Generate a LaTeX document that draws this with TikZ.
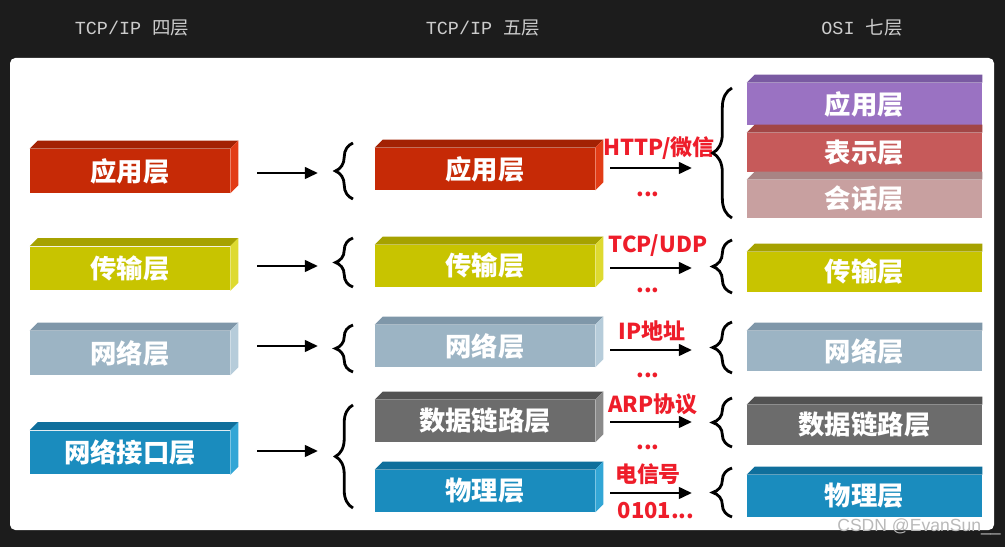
\documentclass[tikz,border=0pt]{standalone}
\usepackage{fontspec}
\setmainfont{Noto Sans CJK SC}
\newfontfamily\hdmono{Liberation Mono}
\newfontfamily\wmfont{Liberation Sans}
\usetikzlibrary{arrows.meta,calc,decorations.pathreplacing}

\definecolor{bgdark}{HTML}{1C1C1C}
\definecolor{headgray}{HTML}{CCCCCC}
\definecolor{protored}{HTML}{EE1D2A}
\definecolor{redfront}{HTML}{C62A06}
\definecolor{redtop}{HTML}{A32204}
\definecolor{redside}{HTML}{E23C16}
\definecolor{yelfront}{HTML}{C8C400}
\definecolor{yeltop}{HTML}{A6A200}
\definecolor{yelside}{HTML}{DEDA30}
\definecolor{lbfront}{HTML}{9CB4C4}
\definecolor{lbtop}{HTML}{7F97A9}
\definecolor{lbside}{HTML}{B6CCDA}
\definecolor{bfront}{HTML}{1A8CBE}
\definecolor{btop}{HTML}{0F6F9C}
\definecolor{bside}{HTML}{32A6D6}
\definecolor{gfront}{HTML}{6C6C6C}
\definecolor{gtop}{HTML}{525252}
\definecolor{gside}{HTML}{8A8A8A}
\definecolor{pfront}{HTML}{9A72C2}
\definecolor{ptop}{HTML}{7A5AA2}
\definecolor{bsfront}{HTML}{C65A5A}
\definecolor{bstop}{HTML}{A24646}
\definecolor{hhfront}{HTML}{C8A0A0}
\definecolor{hhtop}{HTML}{A88484}

\begin{document}
\begin{tikzpicture}[
    x=0.02cm, y=-0.02cm,
    layer/.style={rectangle, inner sep=0pt, text=white, font=\fontsize{15}{15}\selectfont\bfseries},
    lbox/.style={layer, minimum width=4cm, minimum height=0.88cm},
    mbox/.style={layer, minimum width=4.4cm, minimum height=0.84cm},
    rbox/.style={layer, minimum width=4.7cm, minimum height=0.8cm},
    proto/.style={text=protored, inner sep=0pt, font=\fontsize{12.5}{12.5}\selectfont\bfseries},
    head/.style={text=headgray, inner sep=0pt, font=\fontsize{10.5}{10.5}\selectfont},
    arr/.style={-{Triangle[length=7.5pt,width=6.5pt]}, line width=1.7pt},
    lbrace/.style={decorate, decoration={brace, amplitude=10pt}, line width=1.6pt},
    rbrace/.style={decorate, decoration={brace, amplitude=11pt}, line width=1.6pt}
]
    % background and panel
    \fill[bgdark] (0,0) rectangle (1005,547);
    \fill[white, rounded corners=3pt] (10,58) rectangle (994,530);

    % column titles
    \node[head] (h4) at (132,28) {{\hdmono TCP/IP }四层};
    \node[head] (h5) at (483,28) {{\hdmono TCP/IP }五层};
    \node[head] (h7) at (862,28) {{\hdmono OSI }七层};

    % TCP/IP four layers
    \node[lbox, fill=redfront] (L1) at (130,171) {应用层};
    \node[lbox, fill=yelfront] (L2) at (130,268.5) {传输层};
    \node[lbox, fill=lbfront] (L3) at (130,353) {网络层};
    \node[lbox, fill=bfront] (L4) at (130,452.5) {网络接口层};

    % TCP/IP five layers
    \node[mbox, fill=redfront] (M1) at (485,169) {应用层};
    \node[mbox, fill=yelfront] (M2) at (485,266) {传输层};
    \node[mbox, fill=lbfront] (M3) at (485,346) {网络层};
    \node[mbox, fill=gfront] (M4) at (485,421) {数据链路层};
    \node[mbox, fill=bfront] (M5) at (485,491) {物理层};

    % OSI seven layers
    \node[rbox, fill=pfront, minimum height=0.84cm] (R1) at (864.5,104) {应用层};
    \node[rbox, fill=bsfront, minimum height=0.78cm] (R2) at (864.5,152.5) {表示层};
    \node[rbox, fill=hhfront, minimum height=0.76cm] (R3) at (864.5,199) {会话层};
    \node[rbox, fill=yelfront] (R4) at (864.5,272) {传输层};
    \node[rbox, fill=lbfront] (R5) at (864.5,351) {网络层};
    \node[rbox, fill=gfront] (R6) at (864.5,425) {数据链路层};
    \node[rbox, fill=bfront, minimum height=0.84cm] (R7) at (864.5,496) {物理层};

    % top and side faces
    \foreach \b/\tc/\sc in {L1/redtop/redside, L2/yeltop/yelside, L3/lbtop/lbside, L4/btop/bside,
                            M1/redtop/redside, M2/yeltop/yelside, M3/lbtop/lbside, M4/gtop/gside, M5/btop/bside} {
        \fill[\tc] (\b.north west) -- ++(8,-8) -- ($(\b.north east)+(8,-8)$) -- (\b.north east) -- cycle;
        \fill[\sc] (\b.north east) -- ++(8,-8) -- ($(\b.south east)+(8,-8)$) -- (\b.south east) -- cycle;
    }
    \foreach \b/\tc in {R1/ptop, R2/bstop, R3/hhtop, R4/yeltop, R5/lbtop, R6/gtop, R7/btop} {
        \fill[\tc] (\b.north west) -- ++(8,-8) -- ($(\b.north east)+(0,-8)$) -- (\b.north east) -- cycle;
    }

    % arrows four -> five
    \foreach \i/\y in {1/173, 2/266, 3/346, 4/451} {
        \coordinate (la\i) at (257,\y);
        \coordinate (lb\i) at (318,\y);
        \draw[arr] (la\i) -- (lb\i);
    }

    % braces before the five layers
    \draw[lbrace] (353,199) -- (353,143);
    \draw[lbrace] (353,287) -- (353,238);
    \draw[lbrace] (353,372) -- (353,325);
    \draw[lbrace] (353,508) -- (353,405);

    % protocols
    \node[proto] (p1) at (659,148) {HTTP/微信};
    \node[proto] (d1) at (648,194) {...};
    \node[proto] (p2) at (658,246) {TCP/UDP};
    \node[proto] (d2) at (648,290) {...};
    \node[proto] (p3) at (652,331) {IP地址};
    \node[proto] (d3) at (648,375) {...};
    \node[proto] (p4) at (653,404) {ARP协议};
    \node[proto] (d4) at (648,447) {...};
    \node[proto] (p5) at (648,474) {电信号};
    \node[proto] (d5) at (656,511) {0101...};

    % arrows five -> seven
    \foreach \i/\y in {1/168, 2/268, 3/350, 4/422, 5/493} {
        \coordinate (ma\i) at (610,\y);
        \coordinate (mb\i) at (692,\y);
        \draw[arr] (ma\i) -- (mb\i);
    }

    % braces before the seven layers
    \draw[rbrace] (732,218) -- (732,88);
    \draw[rbrace] (732,293) -- (732,240);
    \draw[rbrace] (732,373) -- (732,322);
    \draw[rbrace] (732,447) -- (732,398);
    \draw[rbrace] (732,517) -- (732,468);

    % watermark
    \node[text=gray!55, inner sep=0pt, font=\wmfont\fontsize{10}{10}\selectfont] (wm) at (919,527) {CSDN @EvanSun\_\_};
\end{tikzpicture}
\end{document}
